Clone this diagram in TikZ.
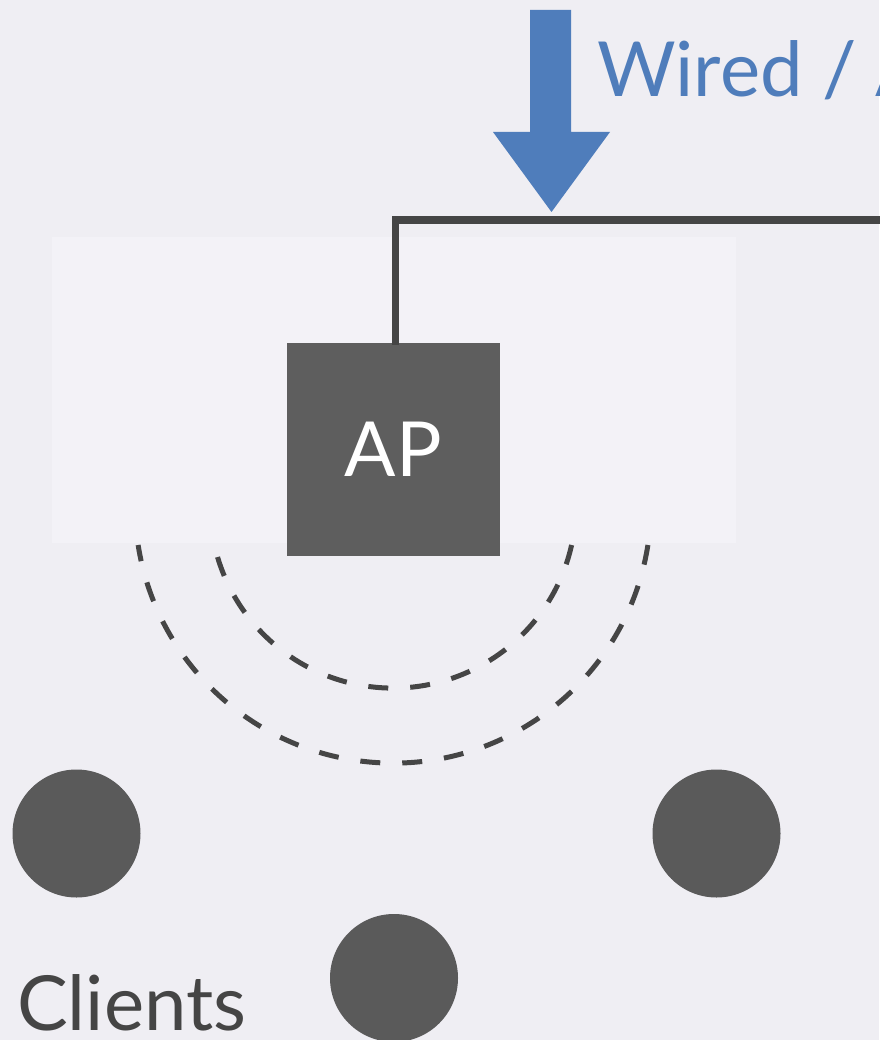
\documentclass[tikz,border=0pt]{standalone}
\usepackage{fontspec}
\setmainfont{Lato}
\definecolor{bgout}{HTML}{EFEEF3}
\definecolor{bgin}{HTML}{F3F2F7}
\definecolor{wire}{HTML}{454545}
\definecolor{boxfill}{HTML}{5E5E5E}
\definecolor{dotfill}{HTML}{5A5A5A}
\definecolor{feedblue}{HTML}{4F7DBB}
\tikzset{
  apbox/.style={rectangle, fill=boxfill, minimum width=213pt, minimum height=213pt, inner sep=0pt, text=white, font=\fontsize{76}{90}\selectfont},
  client/.style={circle, fill=dotfill, minimum size=128pt, inner sep=0pt},
  wireline/.style={draw=wire, line width=7.5pt, line join=miter},
  wave/.style={draw=wire, line width=5pt, dash pattern=on 20pt off 22pt},
  biglabel/.style={anchor=base west, inner sep=0pt, font=\fontsize{76}{90}\selectfont}
}
\begin{document}
\begin{tikzpicture}[x=1pt,y=-1pt]
\useasboundingbox (0,0) rectangle (879,1040);
\fill[bgout] (0,0) rectangle (879,1040);
\fill[bgin] (52,237) rectangle (736,543);
% radio waves
\draw[wave] (571.6,545) arc[start angle=12.6, end angle=167.4, radius=183];
\draw[wave] (647.9,545) arc[start angle=8.9, end angle=171.1, radius=258];
% AP
\node[apbox] (ap) at (393.5,449.5) {AP};
\coordinate (wireend) at (885,220);
\coordinate (apin) at (395.5,345);
\draw[wireline] (apin) |- (wireend);
% feed arrow
\coordinate (feedtip) at (551.5,212);
\fill[feedblue] (530,10) -- (571,10) -- (571,132) -- (610,132) -- (feedtip) -- (493,132) -- (530,132) -- cycle;
\node[biglabel, text=feedblue] (feedlabel) at (597,97) {Wired / A};
% clients
\node[client] (c1) at (76.5,833.5) {};
\node[client] (c2) at (716.5,833.5) {};
\node[client] (c3) at (394,978) {};
\node[biglabel, text=wire] (clients) at (17,1030) {Clients};
\end{tikzpicture}
\end{document}
